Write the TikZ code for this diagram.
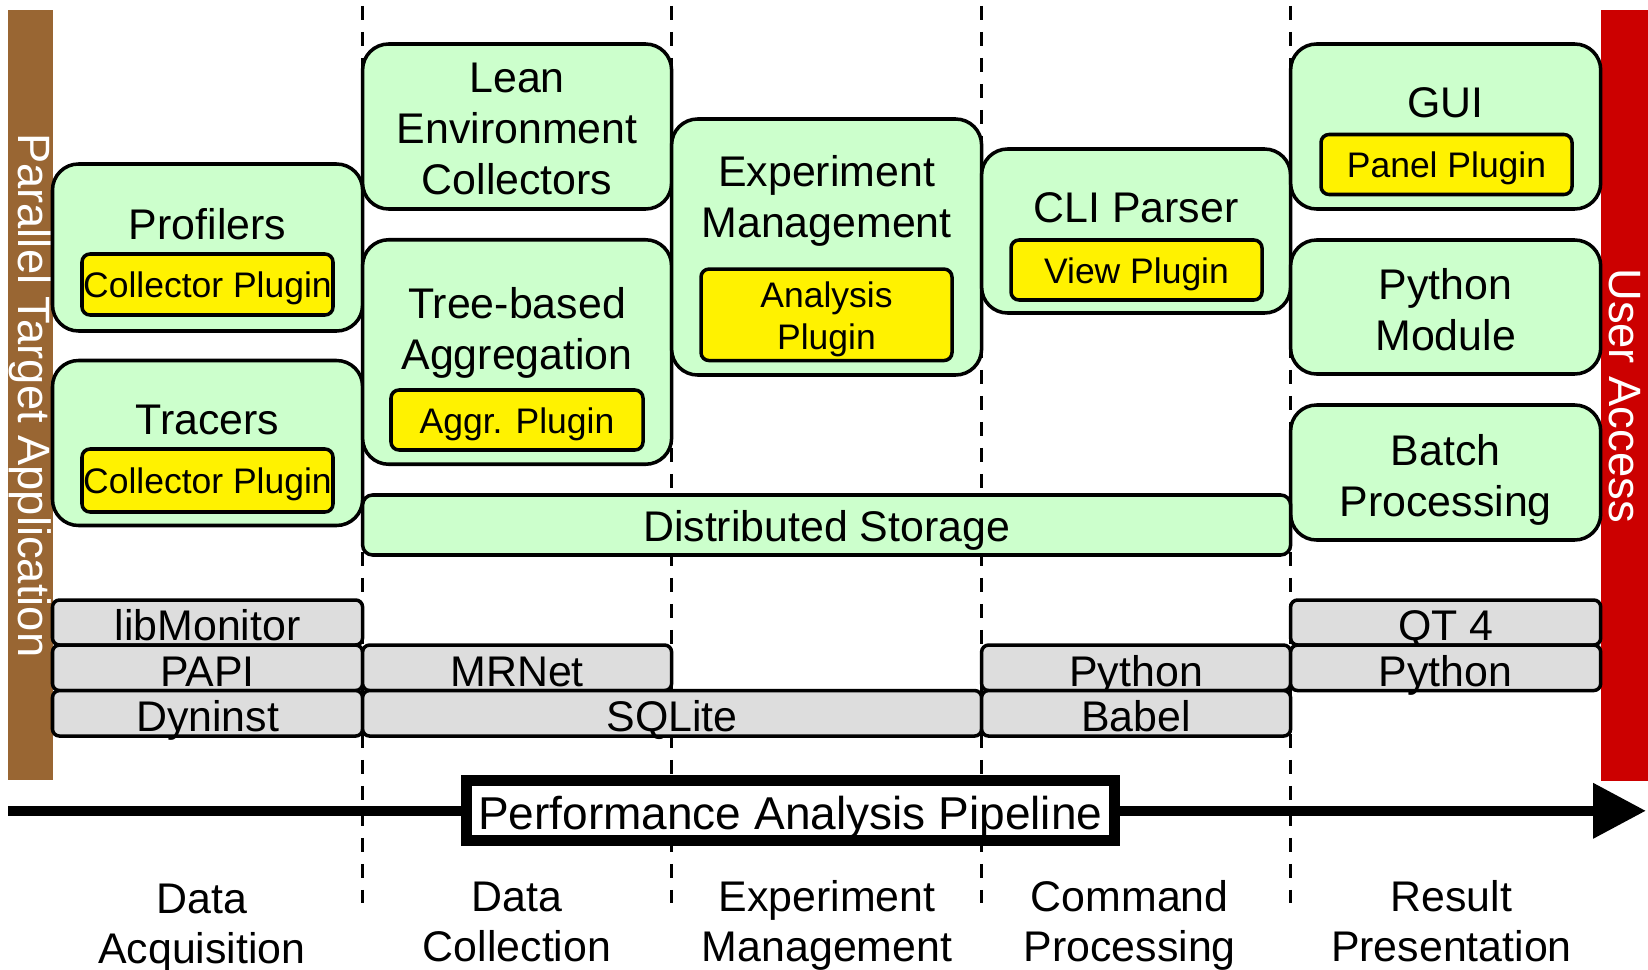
\documentclass[tikz,border=0pt]{standalone}
\usepackage{fontspec}
\setmainfont{Liberation Sans}
\usepackage{tikz}
\usetikzlibrary{arrows.meta,positioning}
\definecolor{BarBrown}{HTML}{996633}
\definecolor{BarRed}{HTML}{CC0000}
\definecolor{LGreen}{HTML}{CCFFCC}
\definecolor{LGray}{HTML}{DDDDDD}
\newcommand{\bigf}{\fontsize{12.2}{14.6}\selectfont}
\newcommand{\plgf}{\fontsize{10.1}{12.1}\selectfont}
\tikzset{
  % green component box
  grn/.style={
    rectangle, rounded corners=0.26cm,
    draw=black, line width=1pt, fill=LGreen,
    inner sep=0pt, align=center, font=\bigf
  },
  % yellow plugin box
  plg/.style={
    rectangle, rounded corners=0.08cm,
    draw=black, line width=1pt, fill=yellow,
    inner sep=0pt, font=\plgf,
    text height=7.5pt, text depth=0pt
  },
  % gray library box
  lib/.style={
    rectangle, rounded corners=0.07cm,
    draw=black, line width=1pt, fill=LGray,
    inner sep=0pt, font=\bigf,
    text height=10.4pt, text depth=0pt
  },
  % title inside a box
  ttl/.style={align=center, font=\bigf, inner sep=0pt},
  plgtxt/.style={align=center, font=\plgf, inner sep=0pt},
  % side bar
  bar/.style={
    rectangle, fill=#1, rotate=-90, text=white,
    inner sep=0pt, font=\fontsize{12.9}{15}\selectfont
  },
  % stage label
  stage/.style={align=center, font=\fontsize{12.2}{14.2}\selectfont, inner sep=0pt},
  % stage divider
  divider/.style={draw=black, line width=0.8pt, dash pattern=on 0.14cm off 0.12cm}
}
\begin{document}
\begin{tikzpicture}[x=1cm, y=-1cm]
  \useasboundingbox (0,0) rectangle (16.48,9.70);

  % ---- stage dividers ----
  \foreach \xd in {3.626,6.716,9.816,12.906}
    \draw[divider] (\xd,0.06) -- (\xd,9.03);

  % ---- side bars ----
  \node[bar=BarBrown, minimum width=7.695cm, minimum height=0.441cm] (app) at (0.3045,3.9525) {Parallel Target Application};
  \node[bar=BarRed,   minimum width=7.705cm, minimum height=0.468cm] (user) at (16.246,3.955) {User Access};

  % ---- column 1: data acquisition ----
  \node[grn, minimum width=3.101cm, minimum height=1.67cm] (prof) at (2.0755,2.475) {};
  \node[ttl] (profT) at (2.0755,2.24) {Profilers};
  \node[plg, minimum width=2.51cm, minimum height=0.61cm] (profP) at (2.075,2.845) {Collector Plugin};
  \node[grn, minimum width=3.101cm, minimum height=1.65cm] (trac) at (2.0755,4.43) {};
  \node[ttl] (tracT) at (2.0755,4.20) {Tracers};
  \node[plg, minimum width=2.51cm, minimum height=0.63cm] (tracP) at (2.075,4.805) {Collector Plugin};

  % ---- column 2: data collection ----
  \node[grn, minimum width=3.09cm, minimum height=1.65cm] (lean) at (5.171,1.265) {};
  \node[ttl] (leanT) at (5.171,1.291) {Lean\\Environment\\Collectors};
  \node[grn, minimum width=3.09cm, minimum height=2.245cm] (tree) at (5.171,3.52) {};
  \node[ttl] (treeT) at (5.171,3.327) {Tree-based\\Aggregation};
  \node[plg, minimum width=2.52cm, minimum height=0.60cm] (treeP) at (5.17,4.20) {Aggr. Plugin};

  % ---- column 3: experiment management ----
  \node[grn, minimum width=3.10cm, minimum height=2.56cm] (exp) at (8.266,2.47) {};
  \node[ttl] (expT) at (8.266,2.012) {Experiment\\Management};
  \node[plg, minimum width=2.51cm, minimum height=0.915cm] (expP) at (8.265,3.148) {};
  \node[plgtxt] (expPT) at (8.265,3.195) {Analysis\\Plugin};

  % ---- column 4: command processing ----
  \node[grn, minimum width=3.09cm, minimum height=1.64cm] (cli) at (11.361,2.31) {};
  \node[ttl] (cliT) at (11.361,2.08) {CLI Parser};
  \node[plg, minimum width=2.51cm, minimum height=0.60cm] (cliP) at (11.365,2.70) {View Plugin};

  % ---- column 5: result presentation ----
  \node[grn, minimum width=3.101cm, minimum height=1.65cm] (gui) at (14.4565,1.265) {};
  \node[ttl] (guiT) at (14.4565,1.03) {GUI};
  \node[plg, minimum width=2.51cm, minimum height=0.60cm] (guiP) at (14.465,1.645) {Panel Plugin};
  \node[grn, minimum width=3.101cm, minimum height=1.34cm] (pymod) at (14.4565,3.07) {};
  \node[ttl] (pymodT) at (14.4565,3.096) {Python\\Module};
  \node[grn, minimum width=3.101cm, minimum height=1.35cm] (batch) at (14.4565,4.725) {};
  \node[ttl] (batchT) at (14.4565,4.799) {Batch\\Processing};

  % ---- storage ----
  \node[grn, rounded corners=0.1cm, minimum width=9.28cm, minimum height=0.60cm,
    text height=9.3pt, text depth=0pt] (dist) at (8.266,5.25) {Distributed Storage};

  % ---- libraries ----
  \node[lib, minimum width=3.101cm, minimum height=0.45cm]  (libmon) at (2.0755,6.225) {libMonitor};
  \node[lib, minimum width=3.101cm, minimum height=0.45cm]  (qt)     at (14.4565,6.225) {QT 4};
  \node[lib, minimum width=3.101cm, minimum height=0.455cm] (papi)   at (2.0755,6.678) {PAPI};
  \node[lib, minimum width=3.09cm,  minimum height=0.455cm] (mrnet)  at (5.171,6.678) {MRNet};
  \node[lib, minimum width=3.09cm,  minimum height=0.455cm] (pyA)    at (11.361,6.678) {Python};
  \node[lib, minimum width=3.101cm, minimum height=0.455cm] (pyB)    at (14.4565,6.678) {Python};
  \node[lib, minimum width=3.101cm, minimum height=0.455cm] (dyn)    at (2.0755,7.133) {Dyninst};
  \node[lib, minimum width=6.19cm,  minimum height=0.455cm] (sqlite) at (6.721,7.133) {SQLite};
  \node[lib, minimum width=3.09cm,  minimum height=0.455cm] (babel)  at (11.361,7.133) {Babel};

  % ---- pipeline arrow ----
  \coordinate (pipeS) at (0.084,8.108);
  \coordinate (pipeE) at (16.46,8.108);
  \draw[-{Triangle[length=0.53cm,width=0.53cm]}, line width=0.105cm] (pipeS) -- (pipeE);
  \node[draw=black, fill=white, line width=0.11cm, minimum width=6.485cm, minimum height=0.60cm,
    inner sep=0pt, text height=10.9pt, text depth=0pt,
    font=\fontsize{13.1}{15}\selectfont] (pipe) at (7.9025,8.105) {Performance Analysis Pipeline};

  % ---- stage labels ----
  \node[stage] (s1) at (2.018,9.28)   {Data\\Acquisition};
  \node[stage] (s2) at (5.171,9.22)   {Data\\Collection};
  \node[stage] (s3) at (8.271,9.252)  {Experiment\\Management};
  \node[stage] (s4) at (11.298,9.257) {Command\\Processing};
  \node[stage] (s5) at (14.514,9.21)  {Result\\Presentation};

\end{tikzpicture}
\end{document}
